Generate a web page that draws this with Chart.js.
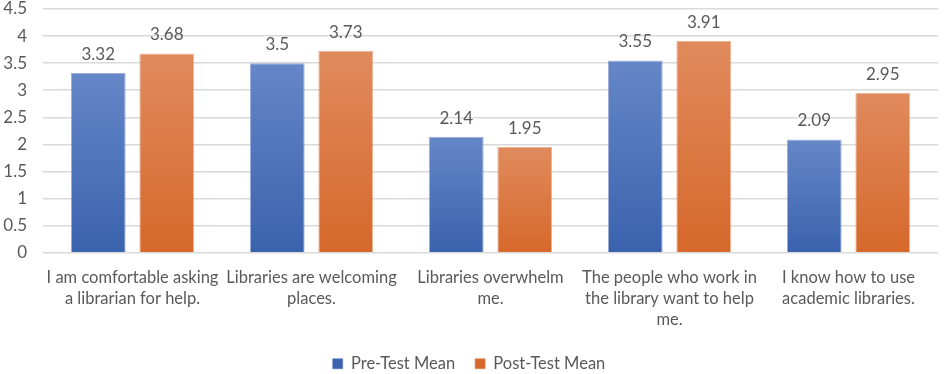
<!DOCTYPE html>
<html><head><meta charset="utf-8">
<script src="https://cdn.jsdelivr.net/npm/chart.js@4"></script>
<style>html,body{margin:0;padding:0;background:#fff}#wrap{width:945px;height:374px}</style>
</head><body><div id="wrap"><canvas id="c" width="945" height="374"></canvas></div>
<script>
const categories = [
  ["I am comfortable asking", "a librarian for help."],
  ["Libraries are welcoming", "places."],
  ["Libraries overwhelm", "me."],
  ["The people who work in", "the library want to help", "me."],
  ["I know how to use", "academic libraries."]
];
const seriesNames = ["Pre-Test Mean", "Post-Test Mean"];
const preTestMean = [3.32, 3.5, 2.14, 3.55, 2.09];
const postTestMean = [3.68, 3.73, 1.95, 3.91, 2.95];
const yMin = 0, yMax = 4.5, yStep = 0.5;

const FONT = 'Lato, sans-serif';
const TEXT = '#595959';

function grad(top, bottom, solid) {
  return function (ctx) {
    const chart = ctx.chart;
    if (!chart.chartArea || ctx.type !== 'data' || ctx.raw === undefined) return solid;
    const y = chart.scales.y;
    const yT = y.getPixelForValue(ctx.raw);
    const yB = y.getPixelForValue(0);
    if (!isFinite(yT) || !isFinite(yB) || yT === yB) return solid;
    const g = chart.ctx.createLinearGradient(0, yT, 0, yB);
    g.addColorStop(0, top);
    g.addColorStop(1, bottom);
    return g;
  };
}

const valueLabels = {
  id: 'valueLabels',
  afterDatasetsDraw(chart) {
    const c = chart.ctx;
    c.save();
    c.font = '17px ' + FONT;
    c.fillStyle = TEXT;
    c.textAlign = 'center';
    c.textBaseline = 'alphabetic';
    chart.data.datasets.forEach((ds, i) => {
      const meta = chart.getDatasetMeta(i);
      meta.data.forEach((bar, j) => {
        c.fillText(String(ds.data[j]), bar.x, bar.y - 13);
      });
    });
    c.restore();
  }
};

new Chart(document.getElementById('c'), {
  type: 'bar',
  data: {
    labels: categories,
    datasets: [
      { label: seriesNames[0], data: preTestMean,
        backgroundColor: grad('#6587c8', '#3a62ad', '#4a70ba'),
        borderColor: 'rgba(90,120,190,0.6)', borderWidth: 1,
        categoryPercentage: 0.765, barPercentage: 0.80 },
      { label: seriesNames[1], data: postTestMean,
        backgroundColor: grad('#e08b5d', '#d6682b', '#e07a3c'),
        borderColor: 'rgba(225,130,80,0.6)', borderWidth: 1,
        categoryPercentage: 0.765, barPercentage: 0.80 }
    ]
  },
  options: {
    responsive: false,
    animation: false,
    layout: { autoPadding: false, padding: { top: 9, right: 7, left: 0, bottom: -8 } },
    plugins: {
      tooltip: { enabled: false },
      legend: {
        position: 'bottom',
        labels: { boxWidth: 10, boxHeight: 10, padding: 20, color: TEXT, font: { family: FONT, size: 16.5 } }
      }
    },
    scales: {
      x: {
        grid: { display: false },
        border: { display: false },
        ticks: { color: TEXT, font: { family: FONT, size: 16.5, lineHeight: 1.27 }, maxRotation: 0, autoSkip: false, padding: 7 },
        afterFit: (s) => { s.paddingLeft = 0; s.paddingRight = 0; s.height -= 2; }
      },
      y: {
        min: yMin, max: yMax,
        grid: { color: '#d9d9d9', lineWidth: 1.5, drawTicks: false },
        border: { display: false },
        ticks: { stepSize: yStep, color: TEXT, font: { family: FONT, size: 17 }, padding: 16,
                 callback: (v) => String(v) },
        afterFit: (s) => { s.width = 43; s.paddingTop = 0; s.paddingBottom = 0; }
      }
    }
  },
  plugins: [valueLabels]
});
</script>
</body></html>
